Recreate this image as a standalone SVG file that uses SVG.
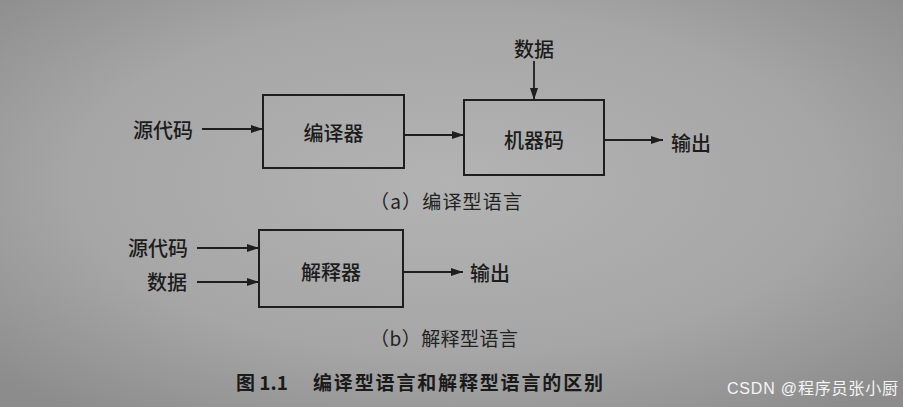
<svg xmlns="http://www.w3.org/2000/svg" width="903" height="407" viewBox="0 0 903 407">
<defs>
<radialGradient id="bg" cx="0.5" cy="0.45" r="0.7">
<stop offset="0" stop-color="#b3b3b3"/>
<stop offset="0.6" stop-color="#a6a6a6"/>
<stop offset="1" stop-color="#8c8c8c"/>
</radialGradient>
<marker id="ah" viewBox="0 0 12 8" refX="12" refY="4" markerWidth="12" markerHeight="8" markerUnits="userSpaceOnUse" orient="auto">
<path d="M0,0 L12,4 L0,8 Z" fill="#1e1e1e"/>
</marker>
<style>
.box{fill:none;stroke:#1e1e1e;stroke-width:2}
.ln{fill:none;stroke:#1e1e1e;stroke-width:1.8;marker-end:url(#ah)}
.t{font-family:"Noto Sans CJK SC","Noto Sans",sans-serif;font-size:20px;font-weight:500;fill:#1c1c1c;dominant-baseline:central}
.cap{font-family:"Noto Sans CJK SC","Noto Sans",sans-serif;font-size:19px;fill:#222;dominant-baseline:central}
.fig{font-family:"Noto Sans CJK SC","Liberation Sans",sans-serif;font-size:19px;font-weight:bold;fill:#1a1a1a;dominant-baseline:central}
.wm{font-family:"Liberation Sans","Noto Sans CJK SC",sans-serif;font-size:16px;fill:#f4f4f4;dominant-baseline:central}
</style>
</defs>
<rect width="903" height="407" fill="url(#bg)"/>
<g id="src-a"><text class="t" x="133" y="129">源代码</text></g>
<g id="compiler"><rect class="box" x="263" y="95" width="141" height="73"/><text class="t" x="333.5" y="132" text-anchor="middle">编译器</text></g>
<g id="data-a"><text class="t" x="534" y="48" text-anchor="middle">数据</text></g>
<g id="machine"><rect class="box" x="464" y="100" width="140" height="75"/><text class="t" x="534" y="139" text-anchor="middle">机器码</text></g>
<g id="out-a"><text class="t" x="671" y="142">输出</text></g>
<g id="cap-a"><text class="cap" x="370" y="200" textLength="152">（a）编译型语言</text></g>
<g id="src-b"><text class="t" x="128" y="247">源代码</text></g>
<g id="data-b"><text class="t" x="147" y="281">数据</text></g>
<g id="interp"><rect class="box" x="259" y="230" width="144" height="77"/><text class="t" x="331" y="271" text-anchor="middle">解释器</text></g>
<g id="out-b"><text class="t" x="470" y="272">输出</text></g>
<g id="cap-b"><text class="cap" x="370" y="337" textLength="148">（b）解释型语言</text></g>
<g id="figcap"><text class="fig" x="236" y="381">图 1.1</text><text class="fig" x="313" y="381" textLength="290">编译型语言和解释型语言的区别</text></g>
<g id="wm"><text class="wm" x="727" y="388" textLength="171">CSDN @程序员张小厨</text></g>
<g id="connectors">
<line class="ln" x1="202" y1="129" x2="263" y2="129"/>
<line class="ln" x1="404" y1="135" x2="464" y2="135"/>
<line class="ln" x1="534" y1="61" x2="534" y2="100"/>
<line class="ln" x1="604" y1="140" x2="663" y2="140"/>
<line class="ln" x1="197" y1="248" x2="259" y2="248"/>
<line class="ln" x1="197" y1="282" x2="259" y2="282"/>
<line class="ln" x1="403" y1="272" x2="463" y2="272"/>
</g>
</svg>
